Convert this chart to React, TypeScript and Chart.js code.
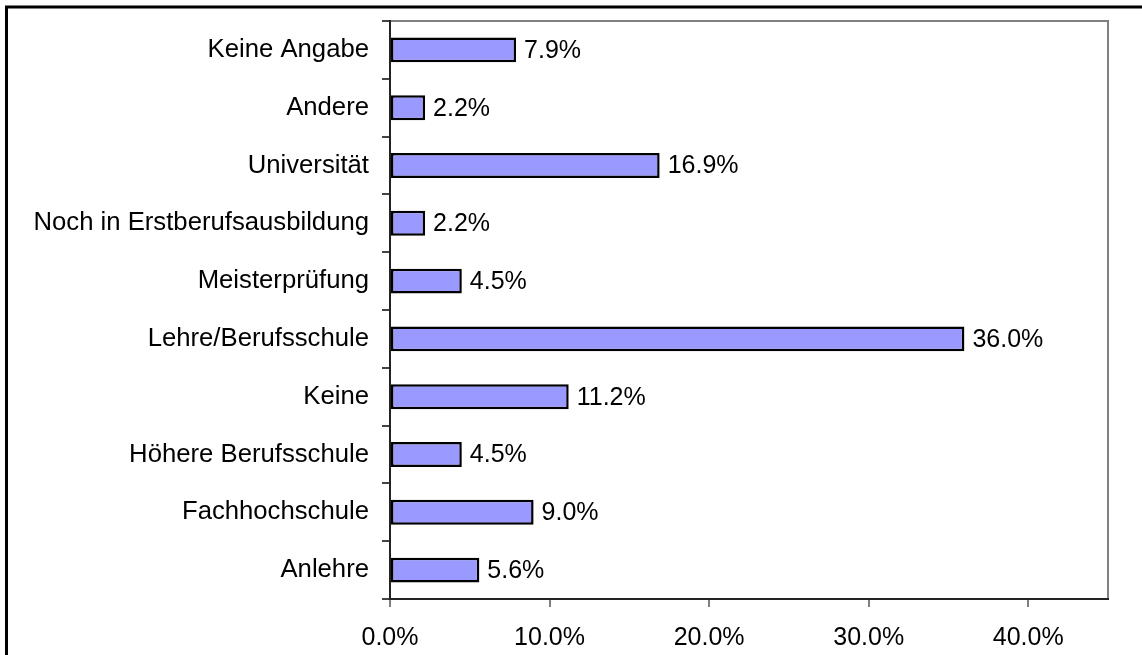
import React, { useEffect, useRef } from "react";
import { Chart, registerables } from "chart.js";

Chart.register(...registerables);

const categories = [
  "Keine Angabe",
  "Andere",
  "Universität",
  "Noch in Erstberufsausbildung",
  "Meisterprüfung",
  "Lehre/Berufsschule",
  "Keine",
  "Höhere Berufsschule",
  "Fachhochschule",
  "Anlehre",
];
const shares = [7.9, 2.2, 16.9, 2.2, 4.5, 36.0, 11.2, 4.5, 9.0, 5.6];
const xTicks = [0, 10, 20, 30, 40];
const xMax = 45;

const FONT = "'Liberation Sans', Arial, sans-serif";

const framePlugin = {
  id: "framePlugin",
  beforeDraw(chart: any) {
    const { ctx, chartArea } = chart;
    ctx.save();
    ctx.fillStyle = "#ffffff";
    ctx.fillRect(0, 0, chart.width, chart.height);
    ctx.strokeStyle = "#000000";
    ctx.lineWidth = 3;
    ctx.strokeRect(6.5, 7, 3000, 3000);
    ctx.strokeStyle = "#808080";
    ctx.lineWidth = 2;
    ctx.beginPath();
    ctx.moveTo(chartArea.left, chartArea.top);
    ctx.lineTo(chartArea.right, chartArea.top);
    ctx.lineTo(chartArea.right, chartArea.bottom);
    ctx.stroke();
    ctx.restore();
  },
};

const valueLabelPlugin = {
  id: "valueLabelPlugin",
  afterDatasetsDraw(chart: any) {
    const { ctx } = chart;
    const meta = chart.getDatasetMeta(0);
    ctx.save();
    ctx.font = `25px ${FONT}`;
    ctx.fillStyle = "#000000";
    ctx.textAlign = "left";
    ctx.textBaseline = "middle";
    meta.data.forEach((bar: any, i: number) => {
      const v = chart.data.datasets[0].data[i] as number;
      ctx.fillText(v.toFixed(1) + "%", bar.x + 8, bar.y + 1);
    });
    ctx.restore();
  },
};

export default function App() {
  const canvasRef = useRef<HTMLCanvasElement | null>(null);

  useEffect(() => {
    document.body.style.margin = "0";
    const canvas = canvasRef.current;
    if (!canvas) return;
    const chart = new Chart(canvas, {
      type: "bar",
      data: {
        labels: categories,
        datasets: [
          {
            data: shares,
            backgroundColor: "#9999ff",
            borderColor: "#000000",
            borderWidth: 2.5,
            borderSkipped: false,
            barPercentage: 0.43,
            categoryPercentage: 1,
          },
        ],
      },
      options: {
        indexAxis: "y",
        responsive: false,
        animation: false,
        layout: { padding: { top: 21, right: 34, left: 0, bottom: 0 } },
        plugins: {
          legend: { display: false },
          tooltip: { enabled: false },
        },
        scales: {
          x: {
            min: 0,
            max: xMax,
            afterBuildTicks: (scale: any) => {
              scale.ticks = xTicks.map((v) => ({ value: v }));
            },
            afterFit: (scale: any) => {
              scale.height = 56;
              scale.paddingLeft = 0;
              scale.paddingRight = 0;
            },
            grid: {
              display: true,
              drawOnChartArea: false,
              drawTicks: true,
              tickLength: 8,
              color: "#808080",
              lineWidth: 2,
            },
            border: { display: true, color: "#222222", width: 2 },
            ticks: {
              padding: 16,
              color: "#000000",
              font: { family: FONT, size: 25 },
              maxRotation: 0,
              callback: (v: any) => Number(v).toFixed(1) + "%",
            },
          },
          y: {
            afterFit: (scale: any) => {
              scale.width = 390;
              scale.paddingTop = 0;
              scale.paddingBottom = 0;
            },
            grid: {
              display: true,
              drawOnChartArea: false,
              drawTicks: true,
              tickLength: 8,
              color: "#444444",
              lineWidth: 2,
              offset: true,
            },
            border: { display: true, color: "#222222", width: 2 },
            ticks: {
              padding: 13,
              color: "#000000",
              font: { family: FONT, size: 25.7 },
              autoSkip: false,
            },
          },
        },
      },
      plugins: [framePlugin, valueLabelPlugin],
    });
    return () => chart.destroy();
  }, []);

  return (
    <div style={{ width: 1142, height: 655 }}>
      <canvas ref={canvasRef} width={1142} height={655} style={{ display: "block" }} />
    </div>
  );
}
